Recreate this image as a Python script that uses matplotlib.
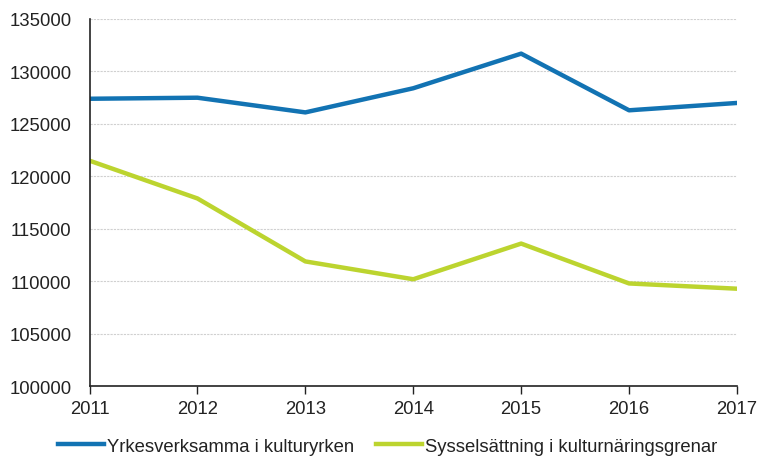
import matplotlib
matplotlib.use("Agg")
import matplotlib.pyplot as plt

years = [2011, 2012, 2013, 2014, 2015, 2016, 2017]
yrkesverksamma = [127400, 127500, 126100, 128400, 131700, 126300, 127000]
sysselsattning = [121500, 117900, 111900, 110200, 113600, 109800, 109300]
series_labels = ["Yrkesverksamma i kulturyrken", "Sysselsättning i kulturnäringsgrenar"]
yticks = [100000, 105000, 110000, 115000, 120000, 125000, 130000, 135000]

plt.rcParams['font.family'] = ['Liberation Sans', 'DejaVu Sans']

fig = plt.figure(figsize=(7.6, 4.64), dpi=100)
ax = fig.add_axes([0.1178, 0.1653, 0.9697 - 0.1178, 0.9569 - 0.1653])

ax.plot(years, yrkesverksamma, color="#1273b3", lw=3.2, label=series_labels[0])
ax.plot(years, sysselsattning, color="#bcd42f", lw=3.2, label=series_labels[1])

ax.set_xlim(2011, 2017)
ax.set_ylim(100000, 135000)
ax.set_xticks(years)
ax.set_xticklabels([str(y) for y in years])
ax.set_yticks(yticks)
ax.set_yticklabels([str(v) for v in yticks])

ax.grid(axis='y', color="#d0d0d0", lw=0.8, linestyle=(0, (2, 1)))
ax.set_axisbelow(True)
for s in ['top', 'right']:
    ax.spines[s].set_visible(False)
for s in ['left', 'bottom']:
    ax.spines[s].set_color("#222222")
    ax.spines[s].set_linewidth(1.2)

fs = 13.3
ax.tick_params(axis='y', length=0, pad=13, labelsize=fs, colors="#222222")
ax.tick_params(axis='x', length=6, width=1, pad=4, labelsize=fs, colors="#222222")

leg = fig.legend(loc='lower center', bbox_to_anchor=(0.51, -0.018), ncol=2, frameon=False,
                 fontsize=fs, handlelength=2.5, handletextpad=0.15, columnspacing=1.2)
for t in leg.get_texts():
    t.set_color("#222222")

fig.savefig("out.png", dpi=100)
